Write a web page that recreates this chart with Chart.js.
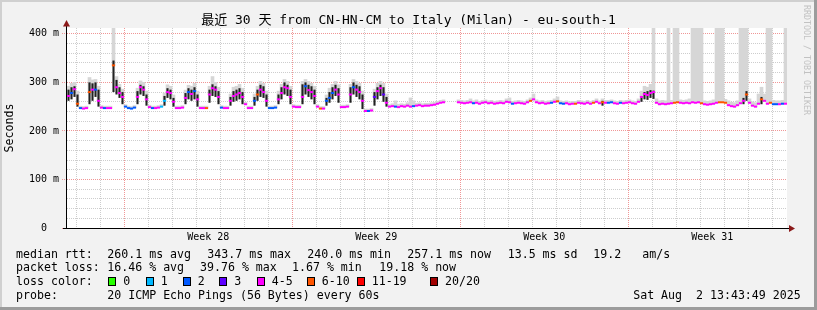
<!DOCTYPE html>
<html>
<head>
<meta charset="utf-8">
<script src="https://cdn.jsdelivr.net/npm/chart.js@4.4.1/dist/chart.umd.min.js"></script>
<style>
  html, body { margin: 0; padding: 0; background: #f2f2f2; }
  canvas { display: block; }
</style>
</head>
<body>
<canvas id="smokeChart" width="817" height="310"></canvas>
<script>
const _ = null;

// one value every 3 hours, 8 per day, 30 days (oldest first), ms
const median = [
  272, 278, 286, 256, 247, 246, 247, 280,
  285, 285, 262, 248, 247, 247, 247, 335,
  290, 278, 270, 250, 247, 246, 248, 270,
  290, 285, 265, 249, 247, 247, 248, 250,
  262, 280, 278, 260, 247, 247, 248, 268,
  280, 276, 282, 265, 247, 247, 247, 275,
  288, 285, 270, 248, 247, 247, 262, 272,
  275, 278, 270, 255, 247, 247, 262, 275,
  285, 280, 262, 247, 247, 248, 265, 278,
  290, 288, 270, 250, 249, 249, 270, 292,
  284, 280, 272, 250, 246, 246, 262, 268,
  278, 285, 275, 249, 249, 250, 275, 290,
  285, 280, 262, 241, 241, 242, 270, 282,
  288, 275, 258, 250, 251, 250, 249, 251,
  250, 252, 250, 251, 252, 253, 251, 252,
  252, 253, 254, 256, 258, 259, _, _,
  _, _, 259, 258, 257, 258, 259, 257,
  258, 256, 258, 259, 257, 258, 256, 257,
  258, 257, 260, 259, 256, 257, 258, 257,
  256, 259, 262, 265, 259, 257, 258, 256,
  257, 258, 260, 261, 257, 256, 257, 255,
  256, 256, 258, 257, 256, 258, 256, 258,
  260, 257, 259, 258, 258, 259, 257, 256,
  258, 257, 258, 259, 257, 256, 260, 270,
  276, 274, 278, 280, 258, 255, 256, 255,
  256, 257, 258, 259, 258, 257, 258, 257,
  259, 258, 259, 257, 255, 254, 255, 256,
  258, 259, 259, 258, 253, 251, 250, 253,
  257, 262, 275, 258, 252, 250, 256, 265,
  262, 256, 258, 255, 255, 255, 256, 256
];

// loss class of each median value (index into lossColors)
const loss = [
  4, 2, 4, 5, 2, 4, 4, 5,
  4, 2, 4, 4, 2, 4, 4, 5,
  4, 4, 4, 2, 2, 2, 2, 4,
  4, 4, 4, 4, 2, 4, 4, 1,
  1, 4, 4, 4, 4, 4, 4, 4,
  2, 4, 2, 4, 4, 4, 5, 4,
  4, 4, 4, 2, 4, 4, 4, 4,
  4, 4, 4, 4, 4, 4, 2, 5,
  4, 4, 4, 2, 2, 2, 4, 4,
  4, 4, 4, 4, 4, 4, 4, 2,
  4, 4, 4, 4, 5, 4, 2, 2,
  2, 4, 4, 4, 4, 4, 4, 2,
  4, 4, 4, 4, 2, 4, 3, 4,
  4, 3, 4, 4, 4, 2, 4, 4,
  4, 4, 4, 2, 4, 4, 4, 4,
  4, 4, 4, 4, 4, 4, 4, 4,
  4, 4, 4, 4, 4, 4, 4, 2,
  4, 4, 4, 4, 4, 4, 4, 4,
  4, 4, 4, 4, 2, 4, 4, 4,
  4, 4, 5, 4, 4, 4, 4, 4,
  4, 2, 4, 5, 2, 2, 4, 4,
  4, 5, 4, 4, 4, 4, 4, 5,
  4, 4, 5, 4, 2, 2, 4, 4,
  2, 4, 4, 4, 4, 4, 4, 4,
  4, 4, 4, 4, 4, 4, 4, 4,
  4, 4, 5, 5, 4, 4, 4, 4,
  4, 4, 4, 5, 4, 4, 4, 4,
  4, 5, 5, 5, 4, 4, 4, 4,
  4, 4, 5, 4, 4, 4, 4, 5,
  4, 4, 5, 2, 2, 4, 2, 4
];

// dense (dark) part of the smoke, [low, high] ms
const darkBand = [
  [262, 285], [265, 290], [270, 292], [250, 275], _, _, _, [255, 300],
  [262, 298], [270, 300], [250, 285], _, _, _, _, [280, 345],
  [275, 305], [268, 290], [255, 280], _, _, _, _, [255, 282],
  [275, 295], [272, 292], [252, 275], _, _, _, _, _,
  [252, 272], [268, 288], [265, 285], [250, 268], _, _, _, [255, 278],
  [265, 288], [262, 285], [265, 290], [250, 275], _, _, _, [258, 285],
  [272, 296], [270, 292], [255, 282], _, _, _, [252, 270], [260, 282],
  [262, 285], [265, 288], [255, 280], _, _, _, [252, 270], [262, 285],
  [270, 295], [268, 292], [250, 275], _, _, _, [255, 275], [265, 290],
  [275, 300], [272, 295], [255, 285], _, _, _, [255, 296], [275, 300],
  [270, 295], [265, 292], [255, 285], _, _, _, [252, 268], [258, 280],
  [265, 290], [272, 295], [258, 288], _, _, _, [258, 290], [275, 300],
  [270, 295], [265, 292], [245, 275], _, _, _, [252, 280], [265, 290],
  [272, 295], [260, 290], [250, 270], _, _, _, _, _,
  _, _, _, _, _, _, _, _,
  _, _, _, _, _, _, _, _,
  _, _, _, _, _, _, _, _,
  _, _, _, _, _, _, _, _,
  _, _, _, _, _, _, _, _,
  _, _, _, _, _, _, _, _,
  _, _, _, _, _, _, _, _,
  _, _, _, _, _, _, _, _,
  _, _, [252, 262], _, _, _, _, _,
  _, _, _, _, _, _, _, [260, 272],
  [265, 280], [264, 282], [268, 284], [266, 283], _, _, _, _,
  _, _, _, _, _, _, _, _,
  _, _, _, _, _, _, _, _,
  _, _, _, _, _, _, _, _,
  _, [255, 268], [262, 282], _, _, _, _, [255, 270],
  _, _, _, _, _, _, _, _
];

// upper edge of the light smoke, ms (above 412 = off the top)
const smokeTop = [
  292, 298, 300, 282, 251, 250, 251, 310,
  305, 306, 292, 252, 251, 251, 251, 420,
  312, 296, 286, 254, 251, 250, 252, 288,
  303, 300, 282, 253, 251, 251, 252, 254,
  278, 295, 292, 274, 251, 251, 252, 284,
  294, 292, 298, 282, 251, 251, 251, 292,
  312, 300, 290, 252, 251, 251, 276, 290,
  292, 296, 288, 259, 251, 251, 276, 292,
  302, 298, 282, 251, 251, 252, 282, 296,
  306, 302, 292, 254, 253, 253, 302, 306,
  302, 298, 292, 254, 250, 250, 274, 288,
  296, 302, 295, 253, 253, 254, 296, 306,
  302, 298, 282, 245, 245, 246, 286, 298,
  302, 298, 276, 254, 256, 262, 255, 256,
  255, 258, 268, 262, 257, 258, 256, 257,
  257, 258, 259, 261, 263, 264, _, _,
  _, _, 264, 263, 262, 263, 266, 262,
  264, 261, 263, 264, 262, 263, 261, 262,
  263, 262, 266, 268, 261, 262, 263, 262,
  261, 264, 268, 276, 264, 262, 263, 261,
  262, 263, 266, 270, 262, 261, 262, 260,
  261, 261, 263, 262, 261, 263, 261, 263,
  266, 262, 266, 263, 263, 264, 262, 261,
  263, 262, 263, 264, 262, 261, 266, 282,
  292, 290, 296, 420, 266, 262, 263, 262,
  420, 263, 420, 420, 264, 263, 264, 266,
  420, 420, 420, 420, 262, 261, 262, 264,
  420, 420, 420, 265, 262, 259, 258, 262,
  420, 420, 420, 266, 260, 258, 276, 290,
  276, 420, 420, 263, 262, 262, 263, 420
];

const lossColors = ['#26ff00', '#00b8ff', '#0059ff', '#5e00ff', '#ff00fe', '#ff5500', '#ff0000', '#a10000'];
const lossLabels = ['0', '1', '2', '3', '4-5', '6-10', '11-19', '20/20'];

const weekLabels = ['Week 28', 'Week 29', 'Week 30', 'Week 31'];
const yTicks = [0, 20, 40, 60, 80, 100, 120, 140, 160, 180, 200, 220, 240, 260, 280, 300, 320, 340, 360, 380, 400];

const rttStats = ['260.1 ms avg', '343.7 ms max', '240.0 ms min', '257.1 ms now', '13.5 ms sd', '19.2', 'am/s'];
const lossStats = ['16.46 % avg', '39.76 % max', '1.67 % min', '19.18 % now'];

const stepHours = 3;
const spanHours = 720;
const firstDayLine = 9.3;    // hours from left edge to first midnight
const firstWeekLine = 57.3;  // hours from left edge to first week start

const minorGrid = 'rgb(205,205,205)';
const majorGrid = 'rgb(240,150,150)';
const mono = "'DejaVu Sans Mono', monospace";

const hourAt = i => stepHours * i + stepHours / 2;
const weekCenters = weekLabels.map((w, k) => firstWeekLine + 84 + 168 * k);

// datasets
const medianPts = [], medianCols = [], darkPts = [], lightPts = [];
median.forEach((v, i) => {
    if (v === null) return;
    medianPts.push({ x: hourAt(i), y: v });
    medianCols.push(lossColors[loss[i]]);
    if (darkBand[i]) darkPts.push({ x: hourAt(i), y: darkBand[i] });
    if (smokeTop[i] !== null) lightPts.push({ x: hourAt(i), y: [v, smokeTop[i]] });
});

const isWeekCenter = v => weekCenters.some(c => Math.abs(c - v) < 0.01);
const isWeekLine = v => {
    const d = ((v - firstWeekLine) % 168 + 168) % 168;
    return d < 0.01 || d > 167.99;
};

const frame = {
    id: 'frame',
    beforeDraw(chart) {
        const { ctx, chartArea: a, width, height } = chart;
        ctx.save();
        ctx.fillStyle = '#f2f2f2';
        ctx.fillRect(0, 0, width, height);
        ctx.fillStyle = '#d0d0d0';
        ctx.fillRect(0, 0, width, 2);
        ctx.fillRect(0, 0, 2, height);
        ctx.fillStyle = '#9c9c9c';
        ctx.fillRect(width - 3, 0, 3, height);
        ctx.fillRect(0, height - 3, width, 3);
        ctx.fillStyle = '#ffffff';
        ctx.fillRect(a.left, a.top, a.right - a.left, a.bottom - a.top);
        ctx.restore();
    },
    afterDraw(chart) {
        const { ctx, chartArea: a } = chart;
        ctx.save();

        // axes with arrows
        ctx.strokeStyle = '#000';
        ctx.lineWidth = 1;
        ctx.beginPath();
        ctx.moveTo(a.left - 0.5, a.bottom + 1);
        ctx.lineTo(a.left - 0.5, 26);
        ctx.moveTo(a.left - 4, a.bottom + 0.5);
        ctx.lineTo(a.right + 2, a.bottom + 0.5);
        ctx.stroke();
        ctx.fillStyle = '#8b1a1a';
        ctx.beginPath();
        ctx.moveTo(a.left - 0.5, 20);
        ctx.lineTo(a.left + 3, 26.5);
        ctx.lineTo(a.left - 4, 26.5);
        ctx.closePath();
        ctx.fill();
        ctx.beginPath();
        ctx.moveTo(a.right + 8, a.bottom + 0.5);
        ctx.lineTo(a.right + 2, a.bottom - 3);
        ctx.lineTo(a.right + 2, a.bottom + 4);
        ctx.closePath();
        ctx.fill();

        // title
        ctx.fillStyle = '#000';
        ctx.font = "13px 'DejaVu Sans Mono', 'Noto Sans CJK SC', monospace";
        ctx.textAlign = 'center';
        ctx.textBaseline = 'middle';
        ctx.fillText('最近 30 天 from CN-HN-CM to Italy (Milan) - eu-south-1', 408.5, 21);

        // legend
        ctx.font = '11.6px ' + mono;
        ctx.textAlign = 'left';
        const rttX = [107.3, 207.3, 307.3, 407.3, 507.7, 593.3, 642.3];
        ctx.fillText('median rtt:', 16, 254.5);
        rttStats.forEach((s, k) => ctx.fillText(s, rttX[k], 254.5));
        const lossX = [107.3, 200, 292, 379.3];
        ctx.fillText('packet loss:', 16, 268.2);
        lossStats.forEach((s, k) => ctx.fillText(s, lossX[k], 268.2));
        ctx.fillText('loss color:', 16, 281.8);
        const boxX = [108.3, 145.7, 182.7, 219.3, 256.7, 306.7, 356.7, 430];
        lossLabels.forEach((s, k) => {
            const x = Math.round(boxX[k]);
            ctx.fillStyle = lossColors[k];
            ctx.fillRect(x, 277, 8, 9);
            ctx.strokeStyle = '#000';
            ctx.strokeRect(x + 0.5, 277.5, 7, 8);
            ctx.fillStyle = '#000';
            ctx.fillText(s, boxX[k] + 15, 281.8);
        });
        ctx.fillText('probe:', 16, 295.8);
        ctx.fillText('20 ICMP Echo Pings (56 Bytes) every 60s', 107.3, 295.8);
        ctx.textAlign = 'right';
        ctx.fillText('Sat Aug  2 13:43:49 2025', 800.7, 295.8);

        // watermark
        ctx.translate(806.5, 60);
        ctx.rotate(Math.PI / 2);
        ctx.font = '8.3px ' + mono;
        ctx.fillStyle = '#c2c2c2';
        ctx.textAlign = 'center';
        ctx.fillText('RRDTOOL / TOBI OETIKER', 0, 0);
        ctx.restore();
    }
};

new Chart(document.getElementById('smokeChart'), {
    type: 'line',
    data: {
        datasets: [
            {
                // median rtt, one colored dash per sample
                type: 'line',
                data: medianPts,
                showLine: false,
                pointStyle: 'line',
                pointRadius: 1.6,
                pointBorderWidth: 2,
                pointBorderColor: medianCols,
                pointBackgroundColor: medianCols,
                order: 0
            },
            {
                type: 'bar',
                data: darkPts,
                backgroundColor: '#222222',
                borderWidth: 0,
                grouped: false,
                barPercentage: 0.7,
                categoryPercentage: 1,
                order: 1
            },
            {
                type: 'bar',
                data: lightPts,
                backgroundColor: '#d6d6d6',
                borderWidth: 0,
                grouped: false,
                barPercentage: 1,
                categoryPercentage: 1,
                order: 2
            }
        ]
    },
    options: {
        responsive: false,
        animation: false,
        events: [],
        layout: { padding: { left: 0, right: 30, top: 28, bottom: 66 } },
        plugins: {
            legend: { display: false },
            tooltip: { enabled: false },
            title: { display: false }
        },
        scales: {
            x: {
                type: 'linear',
                min: 0,
                max: spanHours,
                offset: false,
                border: { display: false, dash: [1, 1] },
                grid: {
                    offset: false,
                    drawTicks: false,
                    lineWidth: 1,
                    color: ctx => isWeekCenter(ctx.tick.value) ? 'rgba(0,0,0,0)' : (isWeekLine(ctx.tick.value) ? majorGrid : minorGrid)
                },
                afterBuildTicks: scale => {
                    const vals = [];
                    for (let h = firstDayLine; h < spanHours; h += 24) vals.push(h);
                    weekCenters.forEach(c => vals.push(c));
                    vals.sort((p, q) => p - q);
                    scale.ticks = vals.map(value => ({ value }));
                },
                afterFit: scale => { scale.height = 16; },
                ticks: {
                    autoSkip: false,
                    maxRotation: 0,
                    padding: 3,
                    color: '#000',
                    font: { family: mono, size: 10 },
                    callback: v => {
                        const k = weekCenters.findIndex(c => Math.abs(c - v) < 0.01);
                        return k >= 0 ? weekLabels[k] : '';
                    }
                }
            },
            y: {
                type: 'linear',
                min: 0,
                max: 412,
                border: { display: false, dash: [1, 1] },
                grid: {
                    lineWidth: 1,
                    color: ctx => ctx.tick.value % 100 === 0 ? majorGrid : minorGrid,
                    drawTicks: true,
                    tickLength: 5,
                    tickBorderDash: [1, 1],
                    tickColor: ctx => ctx.tick.value % 100 === 0 ? majorGrid : 'rgba(0,0,0,0)'
                },
                afterBuildTicks: scale => {
                    scale.ticks = yTicks.map(value => ({ value }));
                },
                afterFit: scale => { scale.width = 67; },
                title: {
                    display: true,
                    text: 'Seconds',
                    color: '#000',
                    font: { family: mono, size: 11.6 },
                    padding: { top: 3, bottom: 0 }
                },
                ticks: {
                    autoSkip: false,
                    padding: 3,
                    color: '#000',
                    font: { family: mono, size: 10 },
                    callback: v => v % 100 ? '' : (v === 0 ? '0  ' : v + ' m')
                }
            }
        }
    },
    plugins: [frame]
});
</script>
</body>
</html>
